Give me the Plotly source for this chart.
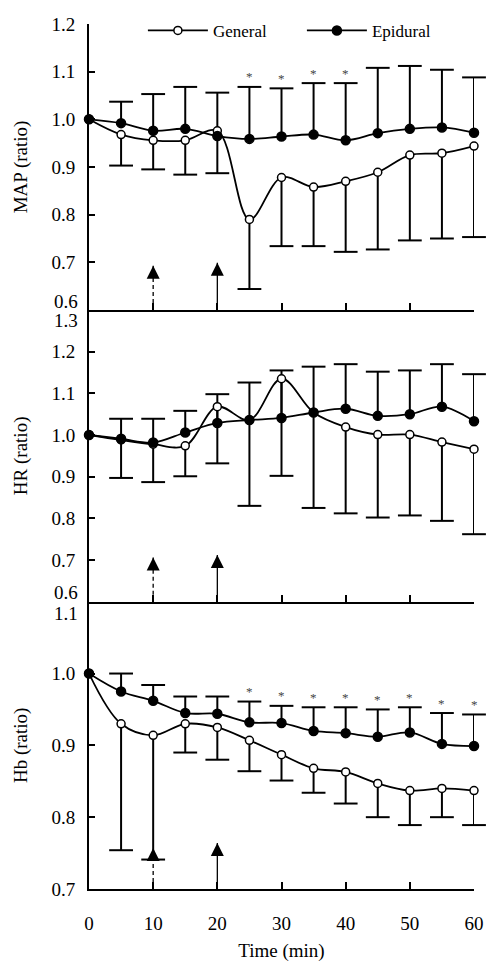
import plotly.graph_objects as go
from plotly.subplots import make_subplots

# ---------------- data ----------------
time = [0, 5, 10, 15, 20, 25, 30, 35, 40, 45, 50, 55, 60]

map_general = [1.0, 0.968, 0.956, 0.956, 0.976, 0.790, 0.878, 0.858, 0.870, 0.889, 0.925, 0.929, 0.944]
map_general_lower = [None, 0.903, 0.895, 0.884, 0.887, 0.644, 0.734, 0.734, 0.722, 0.727, 0.746, 0.750, 0.753]
map_epidural = [1.0, 0.992, 0.976, 0.980, 0.965, 0.959, 0.964, 0.968, 0.956, 0.971, 0.980, 0.983, 0.972]
map_epidural_upper = [None, 1.037, 1.053, 1.068, 1.056, 1.068, 1.065, 1.076, 1.076, 1.108, 1.112, 1.104, 1.088]
map_sig_times = [25, 30, 35, 40]

hr_general = [1.0, 0.988, 0.978, 0.974, 1.068, 1.036, 1.135, 1.054, 1.019, 1.001, 1.001, 0.983, 0.966]
hr_general_lower = [None, 0.897, 0.887, 0.901, 0.932, 0.830, 0.902, 0.825, 0.812, 0.802, 0.807, 0.794, 0.762]
hr_epidural = [1.0, 0.991, 0.982, 1.006, 1.029, 1.036, 1.041, 1.054, 1.063, 1.046, 1.050, 1.068, 1.033]
hr_epidural_upper = [None, 1.039, 1.039, 1.058, 1.098, 1.126, 1.155, 1.164, 1.170, 1.152, 1.155, 1.170, 1.146]

hb_general = [1.0, 0.930, 0.914, 0.930, 0.925, 0.907, 0.887, 0.868, 0.863, 0.847, 0.837, 0.840, 0.837]
hb_general_lower = [None, 0.754, 0.741, 0.890, 0.880, 0.864, 0.851, 0.834, 0.819, 0.800, 0.789, 0.800, 0.789]
hb_epidural = [1.0, 0.975, 0.962, 0.945, 0.944, 0.932, 0.931, 0.920, 0.917, 0.912, 0.918, 0.902, 0.899]
hb_epidural_upper = [None, 1.0, 0.984, 0.968, 0.968, 0.961, 0.955, 0.953, 0.953, 0.950, 0.953, 0.945, 0.943]
hb_sig_times = [25, 30, 35, 40, 45, 50, 55, 60]

# event arrows (time, tip value per panel)
arrow_times = [10, 20]
arrow_dash = ["4px,3px", "solid"]
arrow_tip_map = [0.693, 0.699]
arrow_tip_hr = [0.706, 0.712]
arrow_tip_hb = [0.757, 0.764]

y_ranges = [(0.6, 1.2), (0.6, 1.3), (0.7, 1.1)]
y_titles = ["MAP (ratio)", "HR (ratio)", "Hb (ratio)"]
x_ticks = [0, 10, 20, 30, 40, 50, 60]

FONT = "Liberation Serif"

fig = make_subplots(rows=3, cols=1, shared_xaxes=True, vertical_spacing=0,
                    row_heights=[286, 291.7, 287.3])


def add_errbars(row, vals, bounds):
    xs, ys, cx, cy = [], [], [], []
    for t, v, b in zip(time, vals, bounds):
        if b is None:
            continue
        xs += [t, t, None]
        ys += [v, b, None]
        cx.append(t)
        cy.append(b)
    fig.add_trace(go.Scatter(x=xs, y=ys, mode="lines", line=dict(color="black", width=2),
                             hoverinfo="skip", showlegend=False, cliponaxis=False), row=row, col=1)
    fig.add_trace(go.Scatter(x=cx, y=cy, mode="markers",
                             marker=dict(symbol="line-ew", size=17, line=dict(width=2, color="black")),
                             hoverinfo="skip", showlegend=False, cliponaxis=False), row=row, col=1)


def add_series(row, vals, name, filled, showlegend):
    fig.add_trace(go.Scatter(
        x=time, y=vals, name=name, mode="lines+markers",
        line=dict(color="black", width=1.8, shape="spline", smoothing=1),
        marker=dict(symbol="circle", size=9 if filled else 8,
                    color="black" if filled else "white",
                    line=dict(color="black", width=1.5)),
        showlegend=showlegend, cliponaxis=False), row=row, col=1)


def add_arrows(row, tips):
    ymin = y_ranges[row - 1][0]
    yref = "y" if row == 1 else f"y{row}"
    xref = "x" if row == 1 else f"x{row}"
    for t, tip, dash in zip(arrow_times, tips, arrow_dash):
        fig.add_shape(type="line", xref=xref, yref=yref, x0=t, x1=t, y0=ymin, y1=tip,
                      line=dict(color="black", width=1.3, dash=dash))
    fig.add_trace(go.Scatter(x=arrow_times, y=tips, mode="markers",
                             marker=dict(symbol="arrow-up", size=13, color="black",
                                         line=dict(width=0)),
                             hoverinfo="skip", showlegend=False, cliponaxis=False), row=row, col=1)


def add_stars(row, times, vals, uppers):
    yref = "y" if row == 1 else f"y{row}"
    xref = "x" if row == 1 else f"x{row}"
    for t in times:
        i = time.index(t)
        fig.add_annotation(x=t, y=uppers[i], xref=xref, yref=yref, text="*", showarrow=False,
                           yanchor="middle", yshift=10, font=dict(family=FONT, size=13, color="#444444"))


panels = [
    (map_general, map_general_lower, map_epidural, map_epidural_upper, arrow_tip_map, map_sig_times),
    (hr_general, hr_general_lower, hr_epidural, hr_epidural_upper, arrow_tip_hr, []),
    (hb_general, hb_general_lower, hb_epidural, hb_epidural_upper, arrow_tip_hb, hb_sig_times),
]

for r, (g, gl, e, eu, tips, sig) in enumerate(panels, start=1):
    add_arrows(r, tips)
    add_errbars(r, g, gl)
    add_errbars(r, e, eu)
    add_series(r, g, "General", False, r == 1)
    add_series(r, e, "Epidural", True, r == 1)
    add_stars(r, sig, e, eu)

# boundary tick labels drawn as annotations, nudged away from panel joins
edge_labels = [(1, 0.6, 9), (2, 1.3, -11), (2, 0.6, 9), (3, 1.1, -12)]

for r in range(1, 4):
    lo, hi = y_ranges[r - 1]
    vals = [round(lo + 0.1 * k, 1) for k in range(int(round((hi - lo) / 0.1)) + 1)]
    hidden = [v for (rr, v, s) in edge_labels if rr == r]
    fig.update_yaxes(row=r, col=1, range=[lo, hi], tickvals=vals,
                     ticktext=["" if v in hidden else f"{v:.1f}" for v in vals],
                     ticks="inside", ticklen=6, tickwidth=2, tickcolor="black", automargin=False,
                     showline=True, linecolor="black", linewidth=2, showgrid=False, zeroline=False,
                     tickfont=dict(family=FONT, size=19, color="black"), ticklabelstandoff=8,
                     title=dict(text=y_titles[r - 1], font=dict(family=FONT, size=19, color="black"),
                                standoff=19))
    fig.update_xaxes(row=r, col=1, range=[0, 60], tickvals=x_ticks, automargin=False,
                     ticks="inside", ticklen=7, tickwidth=2, tickcolor="black",
                     showline=True, linecolor="black", linewidth=2, showgrid=False, zeroline=False,
                     tickfont=dict(family=FONT, size=19, color="black"), ticklabelstandoff=16)

fig.update_xaxes(row=3, col=1, title=dict(text="Time (min)", font=dict(family=FONT, size=19, color="black"),
                                          standoff=11))

for (r, v, s) in edge_labels:
    yref = "y" if r == 1 else f"y{r}"
    fig.add_annotation(x=0, xref="paper", y=v, yref=yref, text=f"{v:.1f}", showarrow=False,
                       xanchor="right", yanchor="middle", xshift=-9, yshift=s,
                       font=dict(family=FONT, size=19, color="black"))

# page body has an 8px default margin, so the figure is sized to fit inside the window
fig.update_layout(
    width=492, height=963,
    margin=dict(l=81, r=26, t=16, b=82, autoexpand=False),
    paper_bgcolor="white", plot_bgcolor="white",
    font=dict(family=FONT, color="black"),
    showlegend=True,
    legend=dict(orientation="h", x=0.14, y=0.992, xanchor="left", yanchor="middle",
                font=dict(family=FONT, size=17, color="black"), itemwidth=60,
                bgcolor="rgba(0,0,0,0)", entrywidth=84),
)

fig.write_html("out.html")
